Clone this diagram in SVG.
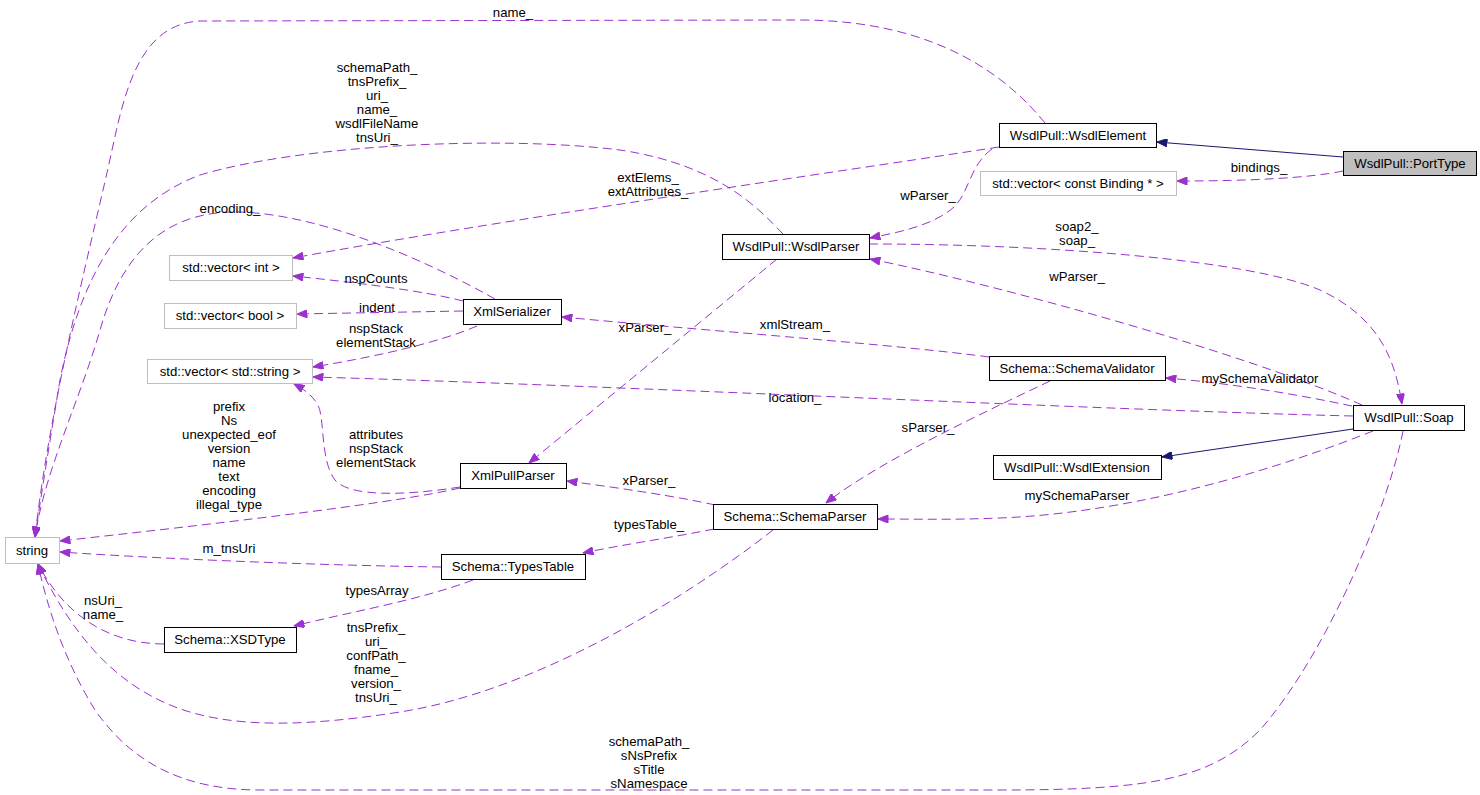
<svg xmlns="http://www.w3.org/2000/svg" width="1480" height="795" viewBox="0 0 1480 795">
<defs>
<style>
text{font-family:"Liberation Sans",Arial,sans-serif;font-size:13.2px;fill:#000;text-anchor:middle}
.n rect{fill:#fff;stroke:#000;stroke-width:1}
.g rect{fill:#fff;stroke:#bfbfbf;stroke-width:1}
.cur rect{fill:#bfbfbf;stroke:#000;stroke-width:1}
.u{fill:none;stroke:#9a32cd;stroke-width:1;stroke-dasharray:9,5;marker-end:url(#ap)}
.i{fill:none;stroke:#191970;stroke-width:1;marker-end:url(#ab)}
</style>
<marker id="ap" viewBox="0 0 10 8" refX="10" refY="4" markerWidth="11" markerHeight="8" orient="auto" markerUnits="userSpaceOnUse"><path d="M0,0 L10,4 L0,8 z" fill="#9a32cd" stroke="#9a32cd"/></marker>
<marker id="ab" viewBox="0 0 10 8" refX="10" refY="4" markerWidth="11" markerHeight="8" orient="auto" markerUnits="userSpaceOnUse"><path d="M0,0 L10,4 L0,8 z" fill="#191970" stroke="#191970"/></marker>
</defs>
<rect x="0" y="0" width="1480" height="795" fill="#fff"/>
<g id="connectors">
<path class="i" d="M1343,157 L1157,142"/>
<path class="u" d="M1343,171 C1310,178 1250,181 1177,181"/>
<path class="i" d="M1353,429 L1162,457"/>
<path class="u" d="M1045,123 C1010,80 940,20 800,20 L200,21 C140,24 125,90 112,150 C95,230 50,400 35,537"/>
<path class="u" d="M992,149 C970,165 970,190 955,206 C935,225 900,232 870,238"/>
<path class="u" d="M999,147 C850,170 500,220 293,258"/>
<path class="u" d="M783,234 C760,210 720,165 620,150 C500,135 300,145 200,175 C120,205 80,280 60,380 C50,440 42,490 35,537"/>
<path class="u" d="M495,299 C440,268 330,215 240,212 C160,210 120,260 100,330 C80,400 45,470 35,537"/>
<path class="u" d="M463,301 C420,290 350,282 293,276"/>
<path class="u" d="M463,311 L297,314"/>
<path class="u" d="M477,326 C440,342 380,356 313,367"/>
<path class="u" d="M460,487 C410,495 350,498 335,480 C320,460 325,420 318,405 C312,395 305,390 294,384"/>
<path class="u" d="M460,488 C400,502 250,520 60,541"/>
<path class="u" d="M777,259 L529,463"/>
<path class="u" d="M989,357 C900,345 700,330 562,317"/>
<path class="u" d="M1353,416 C1100,410 600,385 313,377"/>
<path class="u" d="M1352,406 C1300,395 1230,383 1166,378"/>
<path class="u" d="M869,244 C1050,244 1250,260 1320,290 C1380,318 1395,360 1402,404"/>
<path class="u" d="M1362,405 C1250,355 1000,285 870,259"/>
<path class="u" d="M1050,381 C1000,405 880,460 826,503"/>
<path class="u" d="M1373,431 C1300,460 1150,512 1000,518 C950,520 920,519 878,519"/>
<path class="u" d="M715,505 C680,497 620,488 567,481"/>
<path class="u" d="M714,529 C670,538 620,545 583,553"/>
<path class="u" d="M773,530 C690,595 540,690 400,712 C310,726 230,730 170,705 C110,680 70,630 38,564"/>
<path class="u" d="M441,567 C300,565 150,558 60,552"/>
<path class="u" d="M473,580 C420,600 350,612 294,626"/>
<path class="u" d="M164,644 C120,644 70,625 38,564"/>
<path class="u" d="M1403,431 C1390,500 1330,650 1260,730 C1210,780 1150,790 1000,790 L260,790 C180,790 130,760 95,710 C70,670 50,620 38,564"/>
</g>
<g id="labels">
<text x="513" y="17">name_</text>
<text x="377" y="72">schemaPath_</text>
<text x="377" y="86">tnsPrefix_</text>
<text x="377" y="100">uri_</text>
<text x="377" y="114">name_</text>
<text x="377" y="128">wsdlFileName</text>
<text x="377" y="142">tnsUri_</text>
<text x="230" y="213">encoding_</text>
<text x="648" y="182">extElems_</text>
<text x="648" y="196">extAttributes_</text>
<text x="928" y="200">wParser_</text>
<text x="1259" y="172">bindings_</text>
<text x="1077" y="231">soap2_</text>
<text x="1077" y="245">soap_</text>
<text x="1077" y="281">wParser_</text>
<text x="376" y="283">nspCounts</text>
<text x="377" y="312">indent</text>
<text x="376" y="333">nspStack</text>
<text x="376" y="347">elementStack</text>
<text x="645" y="332">xParser_</text>
<text x="795" y="329">xmlStream_</text>
<text x="1260" y="383">mySchemaValidator</text>
<text x="795" y="402">location_</text>
<text x="229" y="411">prefix</text>
<text x="229" y="425">Ns</text>
<text x="229" y="439">unexpected_eof</text>
<text x="229" y="453">version</text>
<text x="229" y="467">name</text>
<text x="229" y="481">text</text>
<text x="229" y="495">encoding</text>
<text x="229" y="509">illegal_type</text>
<text x="376" y="439">attributes</text>
<text x="376" y="453">nspStack</text>
<text x="376" y="467">elementStack</text>
<text x="928" y="432">sParser_</text>
<text x="649" y="485">xParser_</text>
<text x="1077" y="500">mySchemaParser</text>
<text x="649" y="529">typesTable_</text>
<text x="229" y="553">m_tnsUri</text>
<text x="377" y="595">typesArray</text>
<text x="103" y="605">nsUri_</text>
<text x="103" y="619">name_</text>
<text x="376" y="632">tnsPrefix_</text>
<text x="376" y="646">uri_</text>
<text x="376" y="660">confPath_</text>
<text x="376" y="674">fname_</text>
<text x="376" y="688">version_</text>
<text x="376" y="702">tnsUri_</text>
<text x="649" y="746">schemaPath_</text>
<text x="649" y="760">sNsPrefix</text>
<text x="649" y="774">sTitle</text>
<text x="649" y="788">sNamespace</text>
</g>
<g id="WsdlElement" class="n"><rect x="999.5" y="123.5" width="157" height="24"/><text x="1078" y="140">WsdlPull::WsdlElement</text></g>
<g id="PortType" class="cur"><rect x="1343.5" y="151.5" width="133" height="24"/><text x="1410" y="168">WsdlPull::PortType</text></g>
<g id="BindingVector" class="g"><rect x="980.5" y="171.5" width="196" height="24"/><text x="1078" y="188">std::vector&lt; const Binding * &gt;</text></g>
<g id="WsdlParser" class="n"><rect x="722.5" y="234.5" width="147" height="25"/><text x="796" y="251">WsdlPull::WsdlParser</text></g>
<g id="IntVector" class="g"><rect x="169.5" y="255.5" width="123" height="25"/><text x="231" y="272">std::vector&lt; int &gt;</text></g>
<g id="BoolVector" class="g"><rect x="164.5" y="303.5" width="132" height="25"/><text x="230" y="320">std::vector&lt; bool &gt;</text></g>
<g id="XmlSerializer" class="n"><rect x="463.5" y="299.5" width="98" height="25"/><text x="512" y="316">XmlSerializer</text></g>
<g id="StringVector" class="g"><rect x="147.5" y="359.5" width="165" height="24"/><text x="230" y="376">std::vector&lt; std::string &gt;</text></g>
<g id="SchemaValidator" class="n"><rect x="989.5" y="356.5" width="176" height="24"/><text x="1077" y="373">Schema::SchemaValidator</text></g>
<g id="Soap" class="n"><rect x="1353.5" y="405.5" width="111" height="25"/><text x="1409" y="422">WsdlPull::Soap</text></g>
<g id="WsdlExtension" class="n"><rect x="993.5" y="455.5" width="168" height="24"/><text x="1077" y="472">WsdlPull::WsdlExtension</text></g>
<g id="XmlPullParser" class="n"><rect x="460.5" y="463.5" width="106" height="25"/><text x="513" y="480">XmlPullParser</text></g>
<g id="SchemaParser" class="n"><rect x="713.5" y="504.5" width="164" height="25"/><text x="795" y="521">Schema::SchemaParser</text></g>
<g id="string" class="g"><rect x="5.5" y="537.5" width="54" height="26"/><text x="32" y="555">string</text></g>
<g id="TypesTable" class="n"><rect x="441.5" y="554.5" width="144" height="25"/><text x="513" y="571">Schema::TypesTable</text></g>
<g id="XSDType" class="n"><rect x="164.5" y="627.5" width="132" height="25"/><text x="230" y="644">Schema::XSDType</text></g>
</svg>
